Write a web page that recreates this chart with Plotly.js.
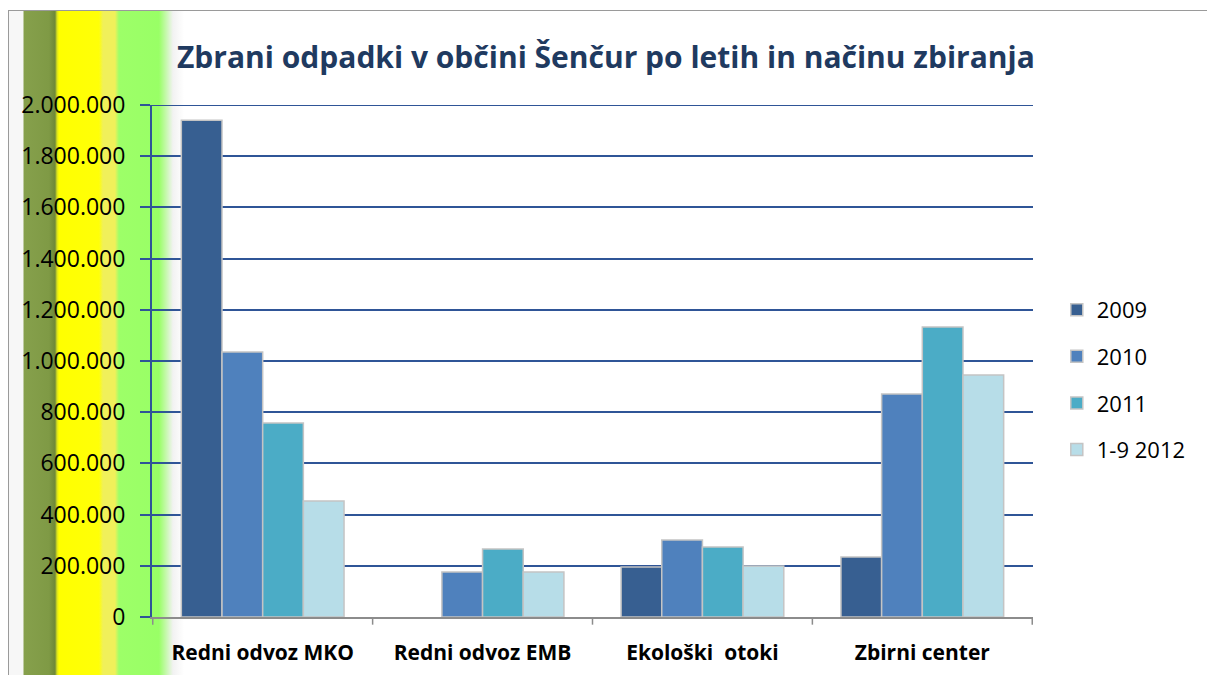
<!DOCTYPE html>
<html><head><meta charset="utf-8">
<script src="https://cdn.plot.ly/plotly-3.0.1.min.js"></script>
<style>
html,body{margin:0;padding:0;background:#fff;}
#wrap{position:relative;width:1207px;height:675px;overflow:hidden;background:#fff;}
#bg{position:absolute;left:8px;top:10px;width:1210px;height:680px;border:1.5px solid #9a9a9a;box-sizing:border-box;
background:linear-gradient(to right,#f7f7f7 0px,#f7f7f7 14px,#86a04c 15px,#7f9a45 40px,#6e8838 46px,#d8e020 48px,#ffff00 50px,#ffff08 90px,#f0f05a 94px,#f0f05a 106px,#9dff68 110px,#99ff66 150px,#f2f2f2 164px,#ffffff 175px);}
#chart{position:absolute;left:0;top:0;width:1207px;height:675px;}
</style></head>
<body><div id="wrap"><div id="bg"></div><div id="chart"></div></div>
<script>
var categories = ["Redni odvoz MKO", "Redni odvoz EMB", "Ekološki  otoki", "Zbirni center"];
var seriesNames = ["2009", "2010", "2011", "1-9 2012"];
var v2009 = [1940000, null, 195000, 234000];
var v2010 = [1035000, 176000, 301000, 871000];
var v2011 = [758000, 266000, 273000, 1133000];
var v2012 = [453000, 176000, 199000, 945000];
var tickVals = [0, 200000, 400000, 600000, 800000, 1000000, 1200000, 1400000, 1600000, 1800000, 2000000];

var FONT = "'Open Sans', sans-serif";
var colors = ["#375f91", "#4f81bd", "#4bacc6", "#b7dde8"];
var allVals = [v2009, v2010, v2011, v2012];
var traces = allVals.map(function(vals, i){
  return {type:"bar", x:categories, y:vals, name:seriesNames[i], legendgroup:"g"+i,
    marker:{color:colors[i], line:{color:"#c4c4c4", width:1.5}}};
});
var layout = {
  width:1207, height:675,
  paper_bgcolor:"rgba(0,0,0,0)", plot_bgcolor:"rgba(0,0,0,0)",
  separators:",.",
  margin:{l:152, r:174, t:105, b:58, pad:0},
  barmode:"group", bargap:0.26, bargroupgap:0,
  title:{text:"<b>Zbrani odpadki v občini Šenčur po letih in načinu zbiranja</b>", x:0.502, xref:"container", xanchor:"center", y:0.915, yref:"container", yanchor:"middle",
    font:{family:FONT, size:30, color:"#1f3a60"}},
  font:{family:FONT, color:"#000"},
  xaxis:{showgrid:false, showline:true, linecolor:"#8c8c8c", linewidth:1.5,
    ticks:"", tickfont:{size:21, color:"#000", family:FONT, weight:"bold"},
    ticklabelstandoff:16},
  yaxis:{range:[0,2000000], tickvals:tickVals, tickformat:",d", showgrid:true, gridcolor:"#2f5597", gridwidth:2,
    showline:true, linecolor:"#2f5597", linewidth:2, ticks:"outside", ticklen:10, tickcolor:"#2f5597", tickwidth:2,
    tickfont:{size:23, color:"#000"}, zeroline:false, ticklabelstandoff:10},
  legend:{x:1.027, xanchor:"left", y:0.463, yanchor:"middle", font:{size:22, color:"#000"}, tracegroupgap:15,
    traceorder:"grouped", bgcolor:"rgba(0,0,0,0)"},
  shapes:[
    {type:"line", xref:"paper", yref:"y", x0:0, x1:1, y0:2000000, y1:2000000, line:{color:"#2f5597", width:2}}
  ]
};
for (var k=0;k<=4;k++){
  layout.shapes.push({type:"line", xref:"x", yref:"paper", x0:k-0.5, x1:k-0.5, y0:0, y1:-0.015, line:{color:"#8c8c8c", width:1.5}});
}
Plotly.newPlot("chart", traces, layout, {displayModeBar:false, staticPlot:true});
</script></body></html>
